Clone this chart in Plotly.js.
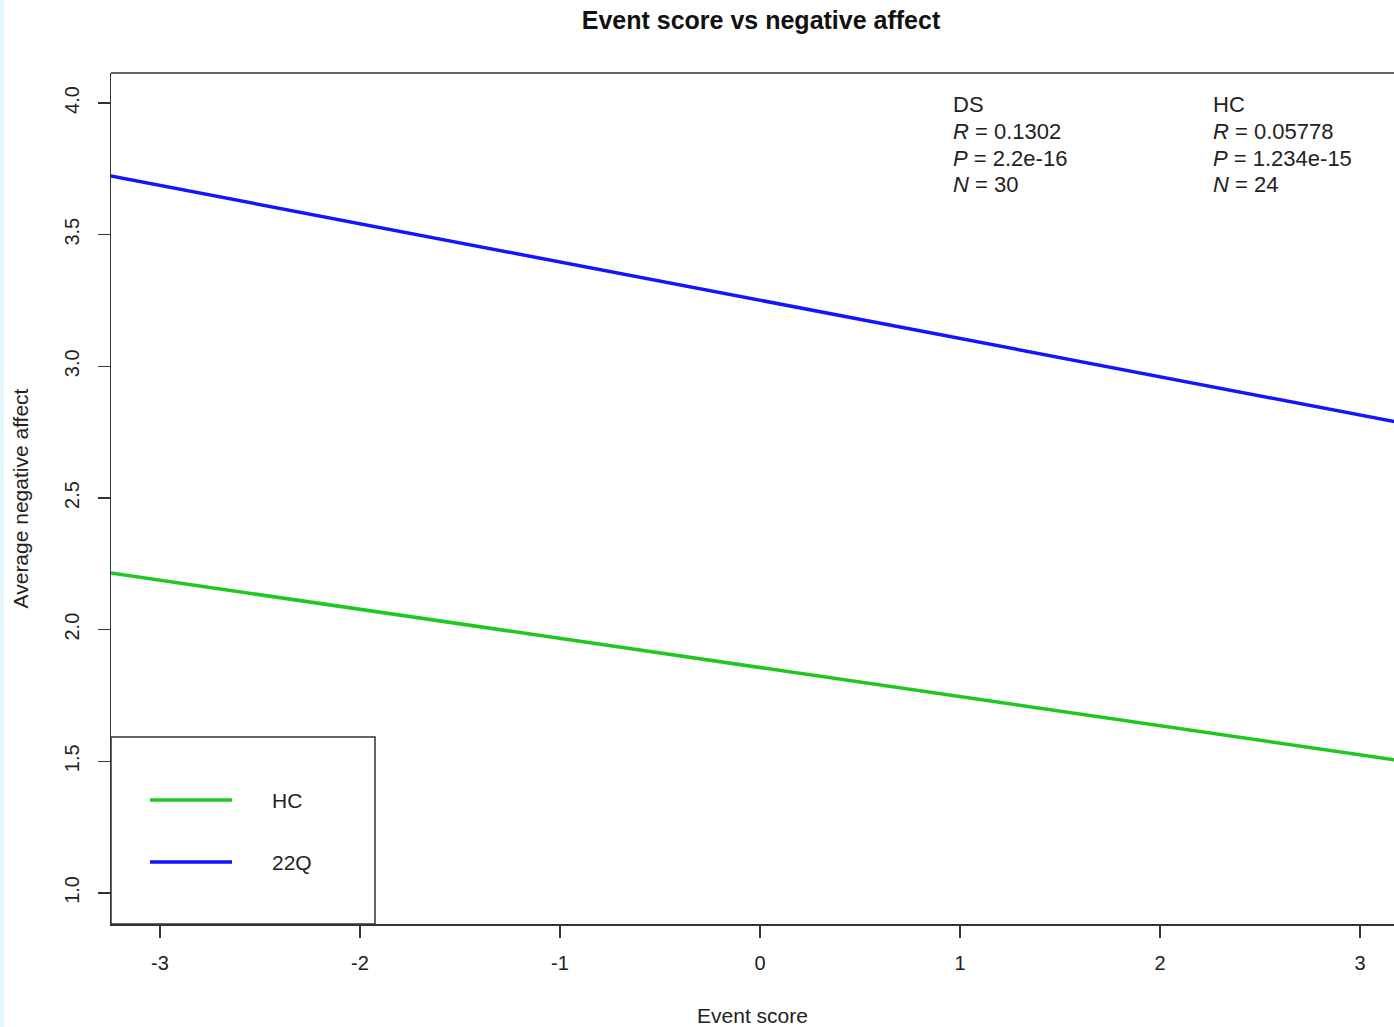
<!DOCTYPE html>
<html>
<head>
<meta charset="utf-8">
<script src="https://cdn.plot.ly/plotly-3.0.1.min.js"></script>
<style>html,body{margin:0;padding:0;background:#fff;}#chart{width:1394px;height:1027px;}</style>
</head>
<body>
<div id="chart"></div>
<script>
// ---- data ----
const seriesNames = ["HC", "22Q"];
const seriesColors = ["#1ec81e", "#1414ff"];
const lineX = [-3.4, 3.4];
const hcY = [2.232, 1.480];
const q22Y = [3.745, 2.757];
const xTicks = [-3, -2, -1, 0, 1, 2, 3];
const xTickText = ["-3", "-2", "-1", "0", "1", "2", "3"];
const yTicks = [1.0, 1.5, 2.0, 2.5, 3.0, 3.5, 4.0];
const yTickText = ["1.0", "1.5", "2.0", "2.5", "3.0", "3.5", "4.0"];
const statsDS = ["DS", "<i>R</i> = 0.1302", "<i>P</i> = 2.2e-16", "<i>N</i> = 30"];
const statsHC = ["HC", "<i>R</i> = 0.05778", "<i>P</i> = 1.234e-15", "<i>N</i> = 24"];
const chartTitle = "Event score vs negative affect";
const xTitle = "Event score";
const yTitle = "Average negative affect";

const FONT = "Liberation Sans, Arial, sans-serif";
const TXT = "#222";

const W = 1394, H = 1027;
const mL = 111, mR = 0, mT = 73, mB = 103;
const pw = W - mL - mR, ph = H - mT - mB;
const px = v => (v - mL) / pw;
const py = v => (H - mB - v) / ph;

const traces = [
  {x: lineX, y: hcY, name: seriesNames[0], mode: "lines", type: "scatter",
   line: {color: seriesColors[0], width: 3.5}, showlegend: false, hoverinfo: "skip"},
  {x: lineX, y: q22Y, name: seriesNames[1], mode: "lines", type: "scatter",
   line: {color: seriesColors[1], width: 3.5}, showlegend: false, hoverinfo: "skip"}
];

const annotations = [];
const statY = [104, 131, 158, 184];
statsDS.forEach((t, i) => annotations.push({xref: "paper", yref: "paper", x: px(951), y: py(statY[i]),
  xanchor: "left", yanchor: "middle", text: t, showarrow: false, font: {family: FONT, size: 22, color: TXT}}));
statsHC.forEach((t, i) => annotations.push({xref: "paper", yref: "paper", x: px(1211), y: py(statY[i]),
  xanchor: "left", yanchor: "middle", text: t, showarrow: false, font: {family: FONT, size: 22, color: TXT}}));

// custom legend (R style box)
const legY = [800, 862];
const shapes = [
  {type: "rect", xref: "paper", yref: "paper", x0: px(-0), x1: px(4), y0: py(H), y1: py(0),
   fillcolor: "#e6f7fc", line: {width: 0}, layer: "below"},
  {type: "line", xref: "paper", yref: "paper", x0: 0, x1: 1, y0: 1, y1: 1, line: {color: "#333", width: 1.5}},
  {type: "rect", xref: "paper", yref: "paper", x0: 0, x1: px(375), y0: 0, y1: py(737),
   line: {color: "#333", width: 1.5}, fillcolor: "rgba(0,0,0,0)"}
];
seriesNames.forEach((n, i) => {
  shapes.push({type: "line", xref: "paper", yref: "paper", x0: px(150), x1: px(232), y0: py(legY[i]), y1: py(legY[i]),
    line: {color: seriesColors[i], width: 3.5}});
  annotations.push({xref: "paper", yref: "paper", x: px(270), y: py(legY[i]), xanchor: "left", yanchor: "middle",
    text: n, showarrow: false, font: {family: FONT, size: 21, color: TXT}});
});

const layout = {
  width: W, height: H,
  margin: {l: mL, r: mR, t: mT, b: mB},
  paper_bgcolor: "#fff", plot_bgcolor: "#fff",
  showlegend: false,
  font: {family: FONT, color: TXT},
  title: {text: "<b>" + chartTitle + "</b>", x: 761 / W, xanchor: "center", y: 1 - 20 / H, yanchor: "middle",
    font: {family: FONT, size: 25, color: "#111"}},
  xaxis: {range: [-3.245, 3.17], tickvals: xTicks, ticktext: xTickText, ticks: "outside", ticklen: 12,
    tickcolor: "#333", tickwidth: 1.5, showline: true, linecolor: "#333", linewidth: 1.5, mirror: false,
    showgrid: false, zeroline: false, automargin: false, ticklabelstandoff: 8,
    tickfont: {family: FONT, size: 20, color: TXT},
    title: {text: xTitle, standoff: 37, font: {family: FONT, size: 21, color: TXT}}},
  yaxis: {range: [0.882, 4.114], tickvals: yTicks, ticktext: yTickText, ticks: "outside", ticklen: 12,
    tickcolor: "#333", tickwidth: 1.5, showline: true, linecolor: "#333", linewidth: 1.5, mirror: false,
    showgrid: false, zeroline: false, automargin: false, tickangle: -90, ticklabelstandoff: 11,
    tickfont: {family: FONT, size: 20, color: TXT},
    title: {text: yTitle, standoff: 26, font: {family: FONT, size: 21, color: TXT}}},
  shapes: shapes,
  annotations: annotations
};

Plotly.newPlot("chart", traces, layout, {displayModeBar: false, staticPlot: true});
</script>
</body>
</html>
